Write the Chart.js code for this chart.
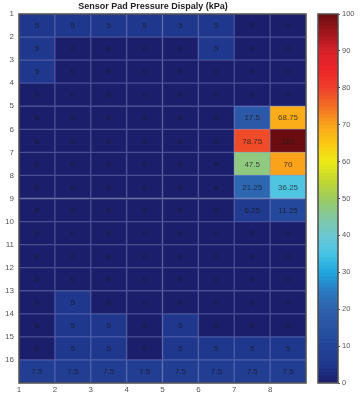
<!DOCTYPE html>
<html><head><meta charset="utf-8">
<script src="https://cdn.jsdelivr.net/npm/chart.js@4/dist/chart.umd.min.js"></script>
<style>
html,body{margin:0;padding:0;background:#fff;width:363px;height:393px;overflow:hidden}
.wrap{position:absolute;top:0;height:393px}
</style></head><body>
<div class="wrap" style="left:0;width:325px"><canvas id="main"></canvas></div>
<div class="wrap" style="left:306px;width:57px"><canvas id="cbar"></canvas></div>
<script>
// ---- data ----
const title = 'Sensor Pad Pressure Dispaly (kPa)';
const columnTicks = [1, 2, 3, 4, 5, 6, 7, 8];
const rowTicks = [1, 2, 3, 4, 5, 6, 7, 8, 9, 10, 11, 12, 13, 14, 15, 16];
const row1  = [5, 5, 5, 5, 5, 5, 0, 0];
const row2  = [5, 0, 0, 0, 0, 5, 0, 0];
const row3  = [5, 0, 0, 0, 0, 0, 0, 0];
const row4  = [0, 0, 0, 0, 0, 0, 0, 0];
const row5  = [0, 0, 0, 0, 0, 0, 17.5, 68.75];
const row6  = [0, 0, 0, 0, 0, 0, 78.75, 110];
const row7  = [0, 0, 0, 0, 0, 0, 47.5, 70];
const row8  = [0, 0, 0, 0, 0, 0, 21.25, 36.25];
const row9  = [0, 0, 0, 0, 0, 0, 6.25, 11.25];
const row10 = [0, 0, 0, 0, 0, 0, 0, 0];
const row11 = [0, 0, 0, 0, 0, 0, 0, 0];
const row12 = [0, 0, 0, 0, 0, 0, 0, 0];
const row13 = [0, 5, 0, 0, 0, 0, 0, 0];
const row14 = [0, 5, 5, 0, 5, 0, 0, 0];
const row15 = [0, 5, 5, 0, 5, 5, 5, 5];
const row16 = [7.5, 7.5, 7.5, 7.5, 7.5, 7.5, 7.5, 7.5];
const pressureRows = [row1, row2, row3, row4, row5, row6, row7, row8, row9, row10, row11, row12, row13, row14, row15, row16];
const colorbarMin = 0, colorbarMax = 100, colorbarStep = 10;

// ---- colormap (jet-like, as in the reference colorbar) ----
const cmapStops  = [0, 5, 10, 15, 20, 25, 30, 35, 40, 45, 50, 55, 60, 65, 70, 75, 80, 85, 90, 95, 100];
const cmapColors = [[27,31,107],[31,55,140],[34,68,152],[40,82,162],[46,96,172],[42,122,192],[32,166,221],[70,196,230],[109,199,210],[130,200,160],[156,203,95],[195,216,48],[236,234,22],[251,200,20],[249,163,27],[243,111,38],[239,64,42],[236,36,40],[216,34,42],[160,22,28],[107,13,16]];
function cmapRGB(v) {
  v = Math.max(colorbarMin, Math.min(colorbarMax, v));
  let i = 0;
  while (i < cmapStops.length - 2 && v > cmapStops[i + 1]) i++;
  const t = (v - cmapStops[i]) / (cmapStops[i + 1] - cmapStops[i]);
  const a = cmapColors[i], b = cmapColors[i + 1];
  return a.map((c, k) => Math.round(c + (b[k] - c) * t));
}
const rgb = c => `rgb(${c[0]},${c[1]},${c[2]})`;
const edge = c => rgb(c.map((x, k) => Math.round(x + ([140, 145, 205][k] - x) * 0.42)));

// ---- build cells ----
const cells = [], cellColors = [], cellBorders = [], cellValues = [];
pressureRows.forEach((row, r) => {
  row.forEach((v, c) => {
    cells.push({ x: columnTicks[c] + 0.5, y: [rowTicks[r], rowTicks[r] + 1] });
    const col = cmapRGB(v);
    cellColors.push(rgb(col));
    cellBorders.push(edge(col));
    cellValues.push(v);
  });
});

const FONT = '"Liberation Sans", Arial, sans-serif';

const cellText = {
  id: 'cellText',
  afterDatasetsDraw(chart) {
    const meta = chart.getDatasetMeta(0), ctx = chart.ctx;
    ctx.save();
    ctx.font = '8px ' + FONT;
    ctx.fillStyle = 'rgba(25,25,35,0.78)';
    ctx.textAlign = 'center';
    ctx.textBaseline = 'middle';
    meta.data.forEach((el, i) => {
      const p = el.getCenterPoint();
      ctx.fillText(String(cellValues[i]), p.x, p.y + 0.5);
    });
    ctx.restore();
  }
};
const frame = {
  id: 'frame',
  afterDraw(chart) {
    const a = chart.chartArea, ctx = chart.ctx;
    ctx.save();
    ctx.strokeStyle = '#4d4d4d';
    ctx.lineWidth = 1.5;
    ctx.strokeRect(a.left, a.top, a.right - a.left, a.bottom - a.top);
    ctx.restore();
  }
};

new Chart(document.getElementById('main'), {
  type: 'bar',
  data: {
    datasets: [{
      data: cells,
      backgroundColor: cellColors,
      borderColor: cellBorders,
      borderWidth: 1,
      borderSkipped: false,
      categoryPercentage: 1,
      barPercentage: 1
    }]
  },
  options: {
    responsive: true, maintainAspectRatio: false, animation: false,
    layout: { padding: { left: 0, right: 19, top: 0, bottom: 0 } },
    plugins: {
      legend: { display: false }, tooltip: { enabled: false },
      title: { display: true, text: title, color: '#222', font: { family: FONT, size: 9, weight: 'bold', lineHeight: 1 }, padding: { top: 2, bottom: 3 } }
    },
    scales: {
      x: {
        type: 'linear', offset: false, min: columnTicks[0], max: columnTicks[columnTicks.length - 1] + 1,
        grid: { display: false, drawTicks: false, offset: false }, border: { display: false },
        afterFit: s => { s.height = 10; },
        ticks: { stepSize: 1, autoSkip: false, maxRotation: 0, padding: 2, color: '#555', font: { family: FONT, size: 8 },
          callback: v => columnTicks.includes(v) ? String(v) : '' }
      },
      y: {
        type: 'linear', reverse: true, min: rowTicks[0], max: rowTicks[rowTicks.length - 1] + 1,
        grid: { display: false, drawTicks: false }, border: { display: false },
        afterFit: s => { s.width = 19; },
        ticks: { stepSize: 1, autoSkip: false, padding: 5, color: '#555', font: { family: FONT, size: 8 },
          callback: v => rowTicks.includes(v) ? String(v) : '' }
      }
    }
  },
  plugins: [cellText, frame]
});

// ---- colorbar ----
const bandCount = 100;
const bands = [], bandColors = [];
for (let i = 0; i < bandCount; i++) {
  const lo = colorbarMin + (colorbarMax - colorbarMin) * i / bandCount;
  const hi = colorbarMin + (colorbarMax - colorbarMin) * (i + 1) / bandCount;
  bands.push({ x: 'cb', y: [lo, hi + 0.05] });
  bandColors.push(rgb(cmapRGB((lo + hi) / 2)));
}
new Chart(document.getElementById('cbar'), {
  type: 'bar',
  data: { labels: ['cb'], datasets: [{ data: bands, backgroundColor: bandColors, borderWidth: 0, categoryPercentage: 1, barPercentage: 1 }] },
  options: {
    responsive: true, maintainAspectRatio: false, animation: false,
    layout: { padding: { left: 12, right: 0, top: 14, bottom: 10 } },
    plugins: { legend: { display: false }, tooltip: { enabled: false } },
    scales: {
      x: { display: false },
      y: {
        position: 'right', min: colorbarMin, max: colorbarMax,
        grid: { drawOnChartArea: false, drawTicks: true, tickLength: 2, color: '#555' }, border: { display: false },
        afterFit: s => { s.width = 25; },
        ticks: { stepSize: colorbarStep, padding: 2, color: '#555', font: { family: FONT, size: 7.5 } }
      }
    }
  },
  plugins: [frame]
});
</script>
</body></html>
